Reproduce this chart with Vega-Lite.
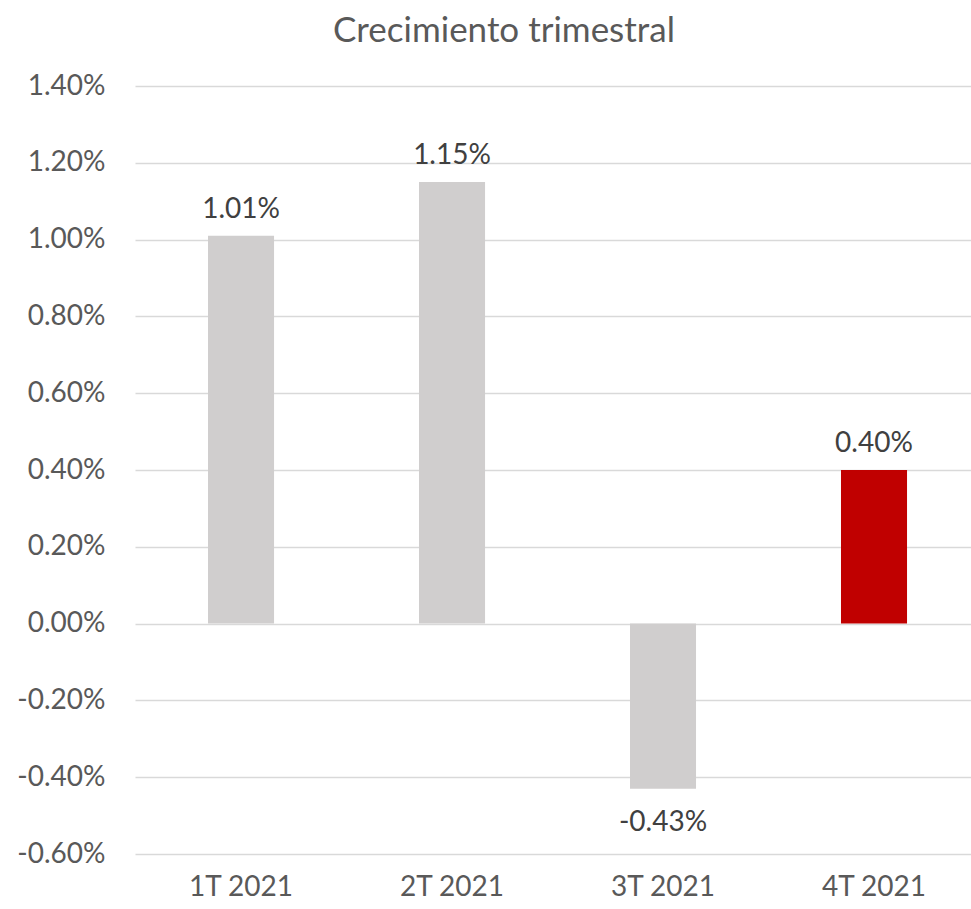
{
  "$schema": "https://vega.github.io/schema/vega-lite/v6.json",
  "autosize": "none",
  "width": 836,
  "height": 768,
  "padding": {"left": 135, "top": 86, "right": 0, "bottom": 55},
  "background": "white",
  "config": {
    "view": {"stroke": null},
    "font": "Lato",
    "locale": {"number": {"decimal": ".", "thousands": ",", "grouping": [3], "currency": ["$", ""], "minus": "-"}}
  },
  "title": {
    "text": "Crecimiento trimestral",
    "fontSize": 35,
    "font": "Lato",
    "fontWeight": "normal",
    "color": "#595959",
    "anchor": "middle",
    "dx": -49,
    "offset": 23
  },
  "data": {
    "values": [
      {"Trimestre": "1T 2021", "valor": 0.0101},
      {"Trimestre": "2T 2021", "valor": 0.0115},
      {"Trimestre": "3T 2021", "valor": -0.0043},
      {"Trimestre": "4T 2021", "valor": 0.0040}
    ]
  },
  "encoding": {
    "x": {
      "field": "Trimestre",
      "type": "nominal",
      "sort": null,
      "scale": {"paddingInner": 0.687, "paddingOuter": 0.3246, "align": 0.533},
      "axis": {
        "title": null,
        "labelAngle": 0,
        "labelFontSize": 28,
        "labelColor": "#595959",
        "labelPadding": 19,
        "domain": false,
        "ticks": false
      }
    },
    "y": {
      "field": "valor",
      "type": "quantitative",
      "scale": {"domain": [-0.006, 0.014], "nice": false, "zero": false},
      "axis": {
        "title": null,
        "values": [-0.006, -0.004, -0.002, 0, 0.002, 0.004, 0.006, 0.008, 0.010, 0.012, 0.014],
        "format": ".2%",
        "labelFontSize": 28,
        "labelColor": "#595959",
        "labelPadding": 30,
        "domain": false,
        "ticks": false,
        "grid": true,
        "gridColor": "#D9D9D9",
        "gridWidth": 1.5
      }
    }
  },
  "layer": [
    {
      "mark": {"type": "bar"},
      "encoding": {
        "color": {
          "field": "Trimestre",
          "type": "nominal",
          "scale": {"domain": ["1T 2021", "2T 2021", "3T 2021", "4T 2021"], "range": ["#D0CECE", "#D0CECE", "#D0CECE", "#C00000"]},
          "legend": null
        }
      }
    },
    {
      "transform": [{"filter": "datum.valor >= 0"}],
      "mark": {"type": "text", "baseline": "bottom", "dy": -12, "fontSize": 28, "color": "#404040"},
      "encoding": {"text": {"field": "valor", "type": "quantitative", "format": ".2%"}}
    },
    {
      "transform": [{"filter": "datum.valor < 0"}],
      "mark": {"type": "text", "baseline": "top", "dy": 20, "fontSize": 28, "color": "#404040"},
      "encoding": {"text": {"field": "valor", "type": "quantitative", "format": ".2%"}}
    }
  ]
}
